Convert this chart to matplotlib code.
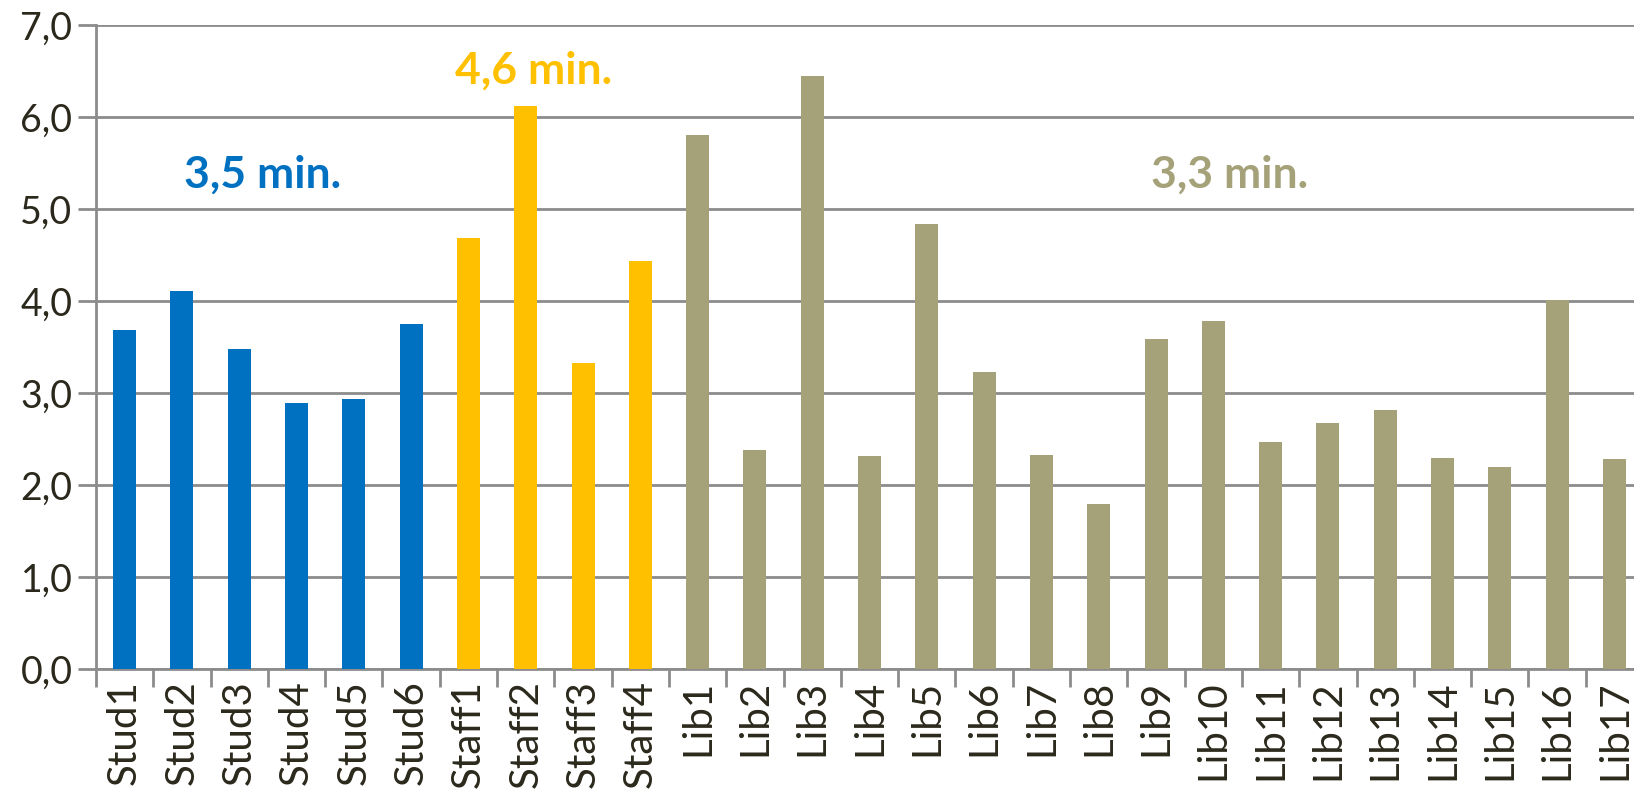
import numpy as np
import matplotlib
matplotlib.use("Agg")
import matplotlib.pyplot as plt
from matplotlib.ticker import FuncFormatter, FixedLocator

plt.rcParams['font.family'] = ['Lato', 'DejaVu Sans']

stud = ["Stud1", "Stud2", "Stud3", "Stud4", "Stud5", "Stud6"]
staff = ["Staff1", "Staff2", "Staff3", "Staff4"]
lib = ["Lib%d" % i for i in range(1, 18)]

stud_vals = [3.68, 4.11, 3.48, 2.89, 2.94, 3.75]
staff_vals = [4.68, 6.12, 3.33, 4.44]
lib_vals = [5.80, 2.38, 6.45, 2.32, 4.84, 3.23, 2.33, 1.79, 3.59, 3.78,
            2.47, 2.67, 2.81, 2.29, 2.20, 4.01, 2.28]

averages = ["3,5 min.", "4,6 min.", "3,3 min."]
colors = ["#0070C0", "#FFC000", "#A5A27A"]

labels = stud + staff + lib
groups = [stud_vals, staff_vals, lib_vals]

fig = plt.figure(figsize=(16.34, 7.98), dpi=100)
ax = fig.add_axes([96 / 1634, 1 - 669 / 798, 1 - 96 / 1634, (669 - 25) / 798])

start = 0
for vals, c in zip(groups, colors):
    x = np.arange(start, start + len(vals))
    ax.bar(x, vals, width=0.4, color=c, zorder=3)
    start += len(vals)

# group averages
ax.text(2.41, 5.37, averages[0], color=colors[0], fontsize=32, fontweight='bold',
        ha='center', va='center')
ax.text(7.14, 6.5, averages[1], color=colors[1], fontsize=32, fontweight='bold',
        ha='center', va='center')
ax.text(19.29, 5.37, averages[2], color=colors[2], fontsize=32, fontweight='bold',
        ha='center', va='center')

ax.set_ylim(0, 7)
ax.set_xlim(-0.5, -0.5 + (1634 - 96) / 57.3)
ax.set_yticks(np.arange(0, 8, 1))
ax.yaxis.set_major_formatter(FuncFormatter(lambda v, p: ("%.1f" % v).replace(".", ",")))
ax.grid(axis='y', color='#8c8c8c', linewidth=2, zorder=0)

ax.xaxis.set_major_locator(FixedLocator(np.arange(len(labels) + 1) - 0.5))
ax.xaxis.set_major_formatter(FuncFormatter(lambda v, p: ""))
ax.set_xticks(np.arange(len(labels)), labels=labels, minor=True)
ax.tick_params(axis='x', which='minor', length=0, rotation=90, labelsize=29,
               labelcolor='#2b281c', pad=8)
ax.tick_params(axis='x', which='major', length=13, width=2, color='#8c8c8c')
ax.tick_params(axis='y', length=13, width=2, color='#8c8c8c', labelsize=27,
               labelcolor='#2b281c', pad=4)

for s in ['top', 'right']:
    ax.spines[s].set_visible(False)
for s in ['left', 'bottom']:
    ax.spines[s].set_color('#8c8c8c')
    ax.spines[s].set_linewidth(2)

fig.savefig("out.png", dpi=100)
